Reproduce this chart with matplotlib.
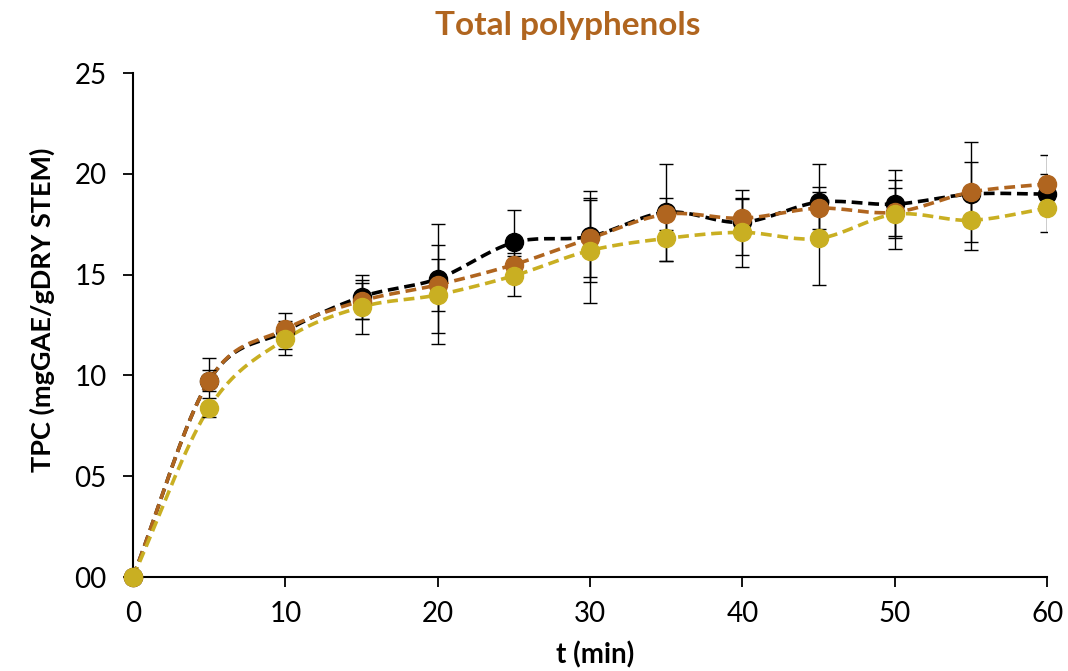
import numpy as np
import matplotlib
matplotlib.use("Agg")
import matplotlib.pyplot as plt
from matplotlib.ticker import FuncFormatter

plt.rcParams['font.family'] = ['Lato', 'DejaVu Sans']

# data
t = [0, 5, 10, 15, 20, 25, 30, 35, 40, 45, 50, 55, 60]

black = [0, 9.75, 12.2, 13.9, 14.8, 16.6, 16.9, 18.1, 17.6, 18.6, 18.5, 19.0, 19.0]
black_err = [0, 1.1, 0.9, 1.1, 2.7, 1.6, 2.25, 2.4, 1.6, 1.9, 1.7, 1.6, 1.0]

brown = [0, 9.75, 12.3, 13.7, 14.5, 15.5, 16.8, 18.0, 17.8, 18.3, 18.1, 19.1, 19.5]
brown_err = [0, 0.5, 0.4, 0.9, 1.3, 0.6, 1.9, 0.8, 0.95, 1.05, 1.2, 2.5, 1.45]

yellow = [0, 8.4, 11.8, 13.4, 14.0, 14.95, 16.2, 16.8, 17.1, 16.8, 18.0, 17.7, 18.3]
yellow_err = [0, 0.46, 0.8, 1.35, 2.45, 1.0, 2.6, 1.1, 1.7, 2.3, 1.7, 1.45, 1.2]

colors = ["#000000", "#B0651F", "#C9AF22"]


def smooth(x, y, n=20):
    # Catmull-Rom curve through the points, like Excel's smoothed line
    x = np.asarray(x, float)
    y = np.asarray(y, float)
    px = np.concatenate([[2 * x[0] - x[1]], x, [2 * x[-1] - x[-2]]])
    py = np.concatenate([[2 * y[0] - y[1]], y, [2 * y[-1] - y[-2]]])
    xs, ys = [], []
    s = np.linspace(0, 1, n, endpoint=False)
    for i in range(1, len(px) - 2):
        for p, out in ((px, xs), (py, ys)):
            p0, p1, p2, p3 = p[i - 1], p[i], p[i + 1], p[i + 2]
            out.extend(0.5 * ((2 * p1) + (-p0 + p2) * s
                              + (2 * p0 - 5 * p1 + 4 * p2 - p3) * s ** 2
                              + (-p0 + 3 * p1 - 3 * p2 + p3) * s ** 3))
    xs.append(x[-1])
    ys.append(y[-1])
    return np.array(xs), np.array(ys)


fig = plt.figure(figsize=(10.68, 6.71), dpi=100)
ax = fig.add_axes([0.1245, 0.14, 0.856, 0.751])

series = [(black, black_err), (brown, brown_err), (yellow, yellow_err)]
for (vals, err), c in zip(series, colors):
    sx, sy = smooth(t, vals)
    ax.plot(sx, sy, '--', color=c, lw=2.6, dashes=(3, 1.6), zorder=3, clip_on=False)
    ax.errorbar(t, vals, yerr=err, fmt='none', ecolor='black', elinewidth=1,
                capsize=5, capthick=1, zorder=4)
    ax.plot(t, vals, 'o', color=c, markersize=13, zorder=5, clip_on=False)

ax.set_xlim(0, 60)
ax.set_ylim(0, 25)
ax.set_xticks(range(0, 61, 10))
ax.set_yticks(range(0, 26, 5))
ax.yaxis.set_major_formatter(FuncFormatter(lambda v, p: "%02d" % v))
ax.tick_params(direction='out', length=7, width=1.3, labelsize=20)
ax.tick_params(axis='y', pad=12)
ax.tick_params(axis='x', pad=10)
for s in ['top', 'right']:
    ax.spines[s].set_visible(False)
for s in ['left', 'bottom']:
    ax.spines[s].set_linewidth(1.5)

ax.set_xlabel("t (min)", fontsize=20, fontweight='bold')
ax.xaxis.set_label_coords(0.505, -0.128)
ax.set_ylabel("TPC (mgGAE/gDRY STEM)", fontsize=19.5, fontweight='bold')
ax.yaxis.set_label_coords(-0.085, 0.53)
fig.text(0.532, 0.962, "Total polyphenols", ha='center', va='center',
         fontsize=24, fontweight='bold', color="#B0651F")

fig.savefig("out.png", dpi=100)
